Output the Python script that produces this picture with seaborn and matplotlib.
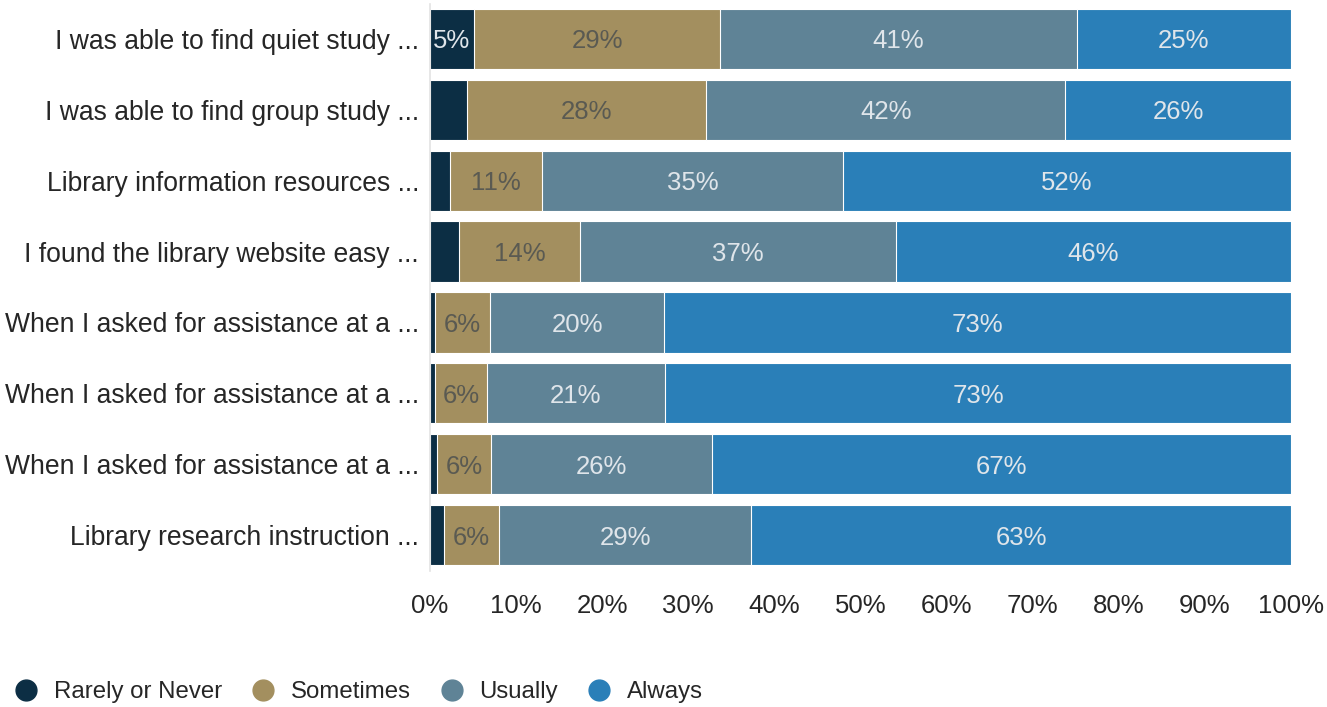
import matplotlib
matplotlib.use("Agg")
import matplotlib.pyplot as plt
from matplotlib.lines import Line2D
import seaborn as sns
import pandas as pd
import numpy as np

questions = [
    "I was able to find quiet study ...",
    "I was able to find group study ...",
    "Library information resources ...",
    "I found the library website easy ...",
    "When I asked for assistance at a ...",
    "When I asked for assistance at a ...",
    "When I asked for assistance at a ...",
    "Library research instruction ...",
]
categories = ["Rarely or Never", "Sometimes", "Usually", "Always"]
rarely = [5.1, 4.3, 2.3, 3.4, 0.6, 0.6, 0.8, 1.6]
sometimes = [28.6, 27.8, 10.7, 14.0, 6.4, 6.0, 6.3, 6.4]
usually = [41.4, 41.7, 35.0, 36.7, 20.2, 20.7, 25.7, 29.3]
always = [24.9, 26.2, 52.0, 45.9, 72.8, 72.7, 67.2, 62.7]
x_ticks = [0, 10, 20, 30, 40, 50, 60, 70, 80, 90, 100]

colors = ["#0c2e44", "#a38f5f", "#5f8396", "#2a7fb8"]
label_colors = ["#dfe5ea", "#5a5a52", "#dfe5ea", "#dfe5ea"]

series = [rarely, sometimes, usually, always]
keys = [f"q{i}" for i in range(len(questions))]
cum = np.cumsum(np.array(series), axis=0)

plt.rcParams["font.family"] = ["Liberation Sans", "DejaVu Sans"]
fig = plt.figure(figsize=(13.27, 7.07), dpi=100)
ax = fig.add_axes([430 / 1327, 1 - 570.5 / 707, (1291 - 430) / 1327, (570.5 - 3.5) / 707])

for i in range(3, -1, -1):
    d = pd.DataFrame({"key": keys, "val": cum[i]})
    sns.barplot(data=d, y="key", x="val", orient="h", color=colors[i],
                saturation=1, width=0.85, ax=ax, edgecolor="white", linewidth=0.8)

for i in range(4):
    starts = cum[i] - np.array(series[i])
    for j, v in enumerate(series[i]):
        if v >= 5:
            ax.text(starts[j] + v / 2, j, f"{round(v):d}%", ha="center",
                    va="center_baseline", fontsize=18.5, color=label_colors[i])

ax.set_xlim(0, 100)
ax.set_ylim(7.5, -0.5)
ax.set_yticks(range(len(questions)))
ax.set_yticklabels(questions)
ax.set_xticks(x_ticks)
ax.set_xticklabels([f"{t}%" for t in x_ticks])
ax.set_xlabel("")
ax.set_ylabel("")
ax.tick_params(axis="both", length=0, labelsize=18.5, colors="#262626")
ax.tick_params(axis="y", labelsize=19.1, pad=8)
ax.tick_params(axis="x", pad=17)
for s in ["top", "right", "bottom"]:
    ax.spines[s].set_visible(False)
ax.spines["left"].set_color("#e3e3e3")
ax.spines["left"].set_linewidth(1.2)

handles = [Line2D([0], [0], marker="o", linestyle="", markersize=15,
                  markerfacecolor=c, markeredgecolor=c) for c in colors]
fig.legend(handles, categories, loc="center left", bbox_to_anchor=(0.0, 1 - 692 / 707),
           ncol=4, frameon=False, fontsize=17.3, handletextpad=0.53, columnspacing=1.13,
           handlelength=1.2, labelcolor="#262626", borderaxespad=0.1)

fig.savefig("out.png", dpi=100)
